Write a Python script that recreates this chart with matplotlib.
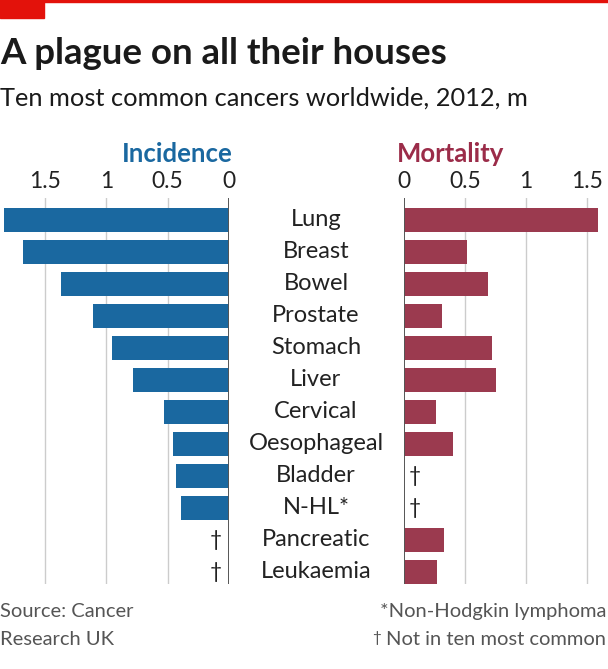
import matplotlib
matplotlib.use("Agg")
import matplotlib.pyplot as plt
from matplotlib.transforms import blended_transform_factory
from matplotlib.patches import Rectangle

plt.rcParams['font.family'] = ['Lato', 'DejaVu Sans']

# data, millions of cases / deaths in 2012
cancers = ['Lung', 'Breast', 'Bowel', 'Prostate', 'Stomach', 'Liver', 'Cervical',
           'Oesophageal', 'Bladder', 'N-HL*', 'Pancreatic', 'Leukaemia']
incidence = [1.83, 1.68, 1.37, 1.11, 0.95, 0.78, 0.53, 0.46, 0.43, 0.39, None, None]
mortality = [1.59, 0.52, 0.69, 0.31, 0.72, 0.75, 0.26, 0.40, None, None, 0.33, 0.27]
ticks = [0, 0.5, 1, 1.5]
tick_labels = ['0', '0.5', '1', '1.5']

BLUE = '#1a68a0'
RED = '#9b3a4f'
W, H = 608, 669

fig = plt.figure(figsize=(W / 100, H / 100), dpi=100)

def px_axes(x0, x1, y_top, y_bot):
    return fig.add_axes([x0 / W, (H - y_bot) / H, (x1 - x0) / W, (y_bot - y_top) / H])

ax_l = px_axes(0, 229, 198, 584)
ax_r = px_axes(404, 608, 198, 584)

ys = list(range(len(cancers)))

for ax, vals, color, xmax in [(ax_l, incidence, BLUE, 1.866), (ax_r, mortality, RED, 1.672)]:
    for t in ticks[1:]:
        ax.axvline(t, color='#cccccc', lw=1, zorder=0)
    for y, v in zip(ys, vals):
        if v is None:
            continue
        ax.barh(y, v, height=0.72, color=color, zorder=2)
    ax.axvline(0, color='#555555', lw=1.4, zorder=3)
    ax.set_ylim(len(cancers) - 1 + 0.375, -0.6875)
    ax.set_xticks(ticks)
    ax.set_xticklabels(tick_labels)
    ax.xaxis.tick_top()
    ax.tick_params(axis='x', length=0, pad=4, labelsize=16.5, labelcolor='#222222')
    ax.set_yticks([])
    for s in ax.spines.values():
        s.set_visible(False)
    ax.set_facecolor('none')

ax_l.set_xlim(1.866, 0)
ax_r.set_xlim(0, 1.672)

# daggers for cancers outside the top ten
for y, v in zip(ys, incidence):
    if v is None:
        ax_l.text(0.11, y, '\u2020', ha='center', va='center', fontsize=15, color='#222222')
for y, v in zip(ys, mortality):
    if v is None:
        ax_r.text(0.09, y, '\u2020', ha='center', va='center', fontsize=15, color='#222222')

# category names in the middle
tr = blended_transform_factory(fig.transFigure, ax_l.transData)
for y, name in zip(ys, cancers):
    ax_l.text(316 / W, y, name, transform=tr, ha='center', va='center',
              fontsize=17, color='#222222', clip_on=False)

# headers
fig.text(233 / W, 1 - 162 / H, 'Incidence', ha='right', va='baseline',
         fontsize=18.5, fontweight='bold', color=BLUE)
fig.text(397 / W, 1 - 162 / H, 'Mortality', ha='left', va='baseline',
         fontsize=18.5, fontweight='bold', color='#9b2c49')

# title block
fig.patches.append(Rectangle((0, 1 - 2 / H), 1, 2 / H, transform=fig.transFigure,
                             color='#e3120b', zorder=5))
fig.patches.append(Rectangle((0, 1 - 18 / H), 44 / W, 18 / H, transform=fig.transFigure,
                             color='#e3120b', zorder=5))
fig.text(0.0, 1 - 64 / H, 'A plague on all their houses', ha='left', va='baseline',
         fontsize=26.4, fontweight='bold', color='#1a1a1a')
fig.text(0.0, 1 - 106 / H, 'Ten most common cancers worldwide, 2012, m', ha='left',
         va='baseline', fontsize=18.3, color='#1a1a1a')

# footer
fig.text(0.0, 1 - 617 / H, 'Source: Cancer', ha='left', va='baseline', fontsize=14.5, color='#555555')
fig.text(0.0, 1 - 645 / H, 'Research UK', ha='left', va='baseline', fontsize=14.5, color='#555555')
fig.text(606 / W, 1 - 617 / H, '*Non-Hodgkin lymphoma', ha='right', va='baseline',
         fontsize=14.5, color='#555555')
note = fig.text(606 / W, 1 - 645 / H, 'Not in ten most common', ha='right', va='baseline',
                fontsize=14.5, color='#555555')
ax_r.annotate('\u2020', xy=(0, 1), xycoords=note, xytext=(-4, 0), textcoords='offset points',
              ha='right', va='top', fontsize=11, color='#555555', annotation_clip=False)

fig.savefig('out.png', dpi=100, facecolor='white')
